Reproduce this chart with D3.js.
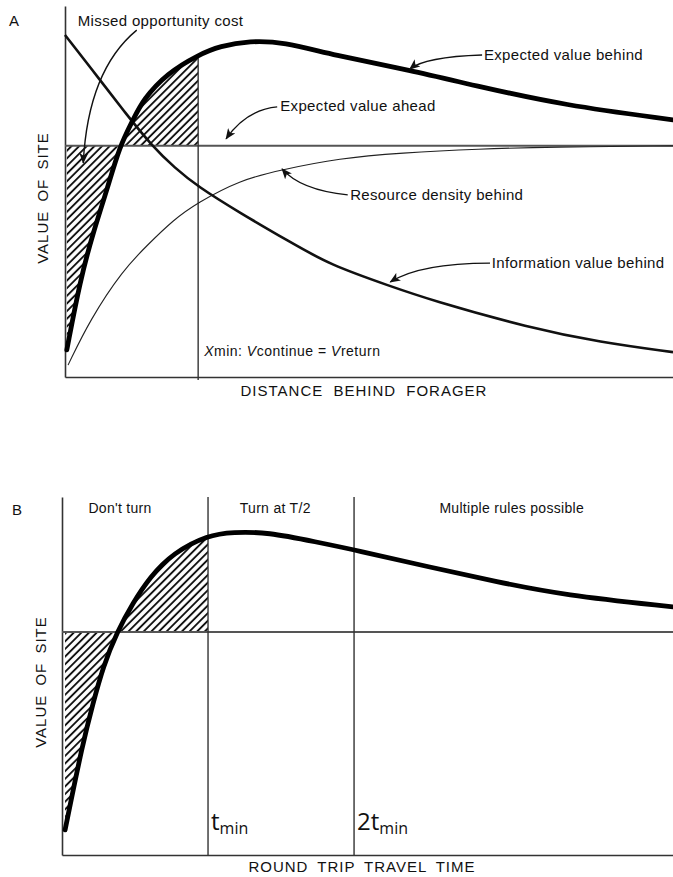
<!DOCTYPE html>
<meta charset="utf-8">

<script src="https://d3js.org/d3.v7.min.js"></script>

<style>
    body { margin: 0; background: #fff; }
    text { font-family: "Liberation Sans", Arial, sans-serif; fill: #111; }
</style>

<div id="chart"></div>

<script>
    // values, both axes in 0-100 "units"
    // panel A: distance behind forager
    const expectedBehindA = [[0.3, 7.3], [2.5, 26.1], [4.6, 38.8], [6.9, 50.4], [9.0, 62.3], [11.2, 69.3],
        [12.8, 74.7], [16.8, 81.9], [21.9, 86.8], [25.5, 89.2], [30.4, 90.6], [35.9, 90.3], [44.1, 86.8],
        [56.7, 82.7], [68.3, 78.2], [81.9, 73.3], [100, 69.3]];
    const infoBehindA = [[0, 92.2], [5.8, 80.0], [9.9, 71.2], [14.3, 62.3], [18.1, 56.3], [21.7, 51.5],
        [28.8, 44.2], [37.0, 36.4], [43.6, 30.2], [53.5, 24.5], [60.0, 20.8], [76.5, 13.2], [88.0, 9.4], [100, 6.7]];
    const resourceBehindA = [[0.5, 3.2], [4.1, 15.4], [9.5, 28.8], [13.7, 35.8], [17.8, 42.3], [21.7, 46.9],
        [28.8, 53.1], [35.4, 55.8], [45.2, 59.0], [55.1, 60.4], [68.3, 61.5], [79.8, 62.0], [100, 62.3]];
    const expectedAheadA = 62.3;
    const xMinA = 21.9;

    // panel B: round trip travel time
    const expectedBehindB = [[0.5, 7.0], [3.4, 31.3], [5.1, 42.5], [6.7, 52.5], [9.0, 62.3], [11.6, 70.4],
        [14.4, 77.7], [18.2, 84.4], [23.9, 89.4], [28.0, 90.2], [33.6, 90.2], [41.7, 87.4], [48.0, 85.2],
        [60.2, 80.4], [71.2, 76.3], [82.0, 72.6], [100, 69.3]];
    const expectedAheadB = 62.3;
    const tMin = 23.9;
    const regionNames = ["Don't turn", "Turn at T/2", "Multiple rules possible"];
    const regionCenters = [9.5, 34.9, 73.6];

    // annotations of panel A (text start, arrow start / bend / tip)
    const notesA = [
        {text: "Missed opportunity cost", at: [2.1, 94.6], from: [11.8, 93.5], ctrl: [3.8, 82.7], to: [3.0, 57.7]},
        {text: "Expected value ahead", at: [35.4, 71.7], from: [34.9, 72.8], ctrl: [29.8, 72.0], to: [26.5, 64.2]},
        {text: "Expected value behind", at: [68.9, 85.4], from: [68.6, 86.8], ctrl: [59.2, 86.3], to: [56.7, 83.0]},
        {text: "Resource density behind", at: [46.9, 47.7], from: [46.5, 49.1], ctrl: [38.7, 50.4], to: [35.7, 56.1]},
        {text: "Information value behind", at: [70.2, 29.4], from: [69.9, 30.7], ctrl: [58.4, 30.7], to: [53.5, 25.6]}
    ];

    const svg = d3.select("#chart")
        .append("svg")
        .attr("width", 673)
        .attr("height", 877);

    const defs = svg.append("defs");

    const hatch = defs.append("pattern")
        .attr("id", "hatch")
        .attr("patternUnits", "userSpaceOnUse")
        .attr("width", 5.4)
        .attr("height", 5.4)
        .attr("patternTransform", "rotate(45)");
    hatch.append("line")
        .attr("x1", 2.7).attr("y1", 0)
        .attr("x2", 2.7).attr("y2", 5.4)
        .attr("stroke", "#111")
        .attr("stroke-width", 1.9);

    defs.append("marker")
        .attr("id", "arrow")
        .attr("viewBox", "0 0 12 10")
        .attr("refX", 11)
        .attr("refY", 5)
        .attr("markerWidth", 11)
        .attr("markerHeight", 9)
        .attr("markerUnits", "userSpaceOnUse")
        .attr("orient", "auto")
        .append("path")
        .attr("d", "M0,0 L12,5 L0,10 L3,5 Z")
        .attr("fill", "#111");

    function noAxis(axis) {
        return axis.tickValues([]).tickSizeOuter(0);
    }

    function styleAxis(g) {
        g.select(".domain").attr("stroke", "#333").attr("stroke-width", 1.6);
    }

    // ---------------- Panel A ----------------
    const xA = d3.scaleLinear().domain([0, 100]).range([65, 673]);
    const yA = d3.scaleLinear().domain([0, 100]).range([377, 6]);

    const lineA = d3.line()
        .x(d => xA(d[0]))
        .y(d => yA(d[1]))
        .curve(d3.curveBasis);

    const areaA = d3.area()
        .x(d => xA(d[0]))
        .y0(yA(expectedAheadA))
        .y1(d => yA(d[1]))
        .curve(d3.curveBasis);

    defs.append("clipPath").attr("id", "clipA")
        .append("rect")
        .attr("x", xA(0)).attr("y", 0)
        .attr("width", xA(xMinA) - xA(0))
        .attr("height", yA(0));

    const gA = svg.append("g");

    gA.append("path")
        .datum(expectedBehindA)
        .attr("d", areaA)
        .attr("fill", "url(#hatch)")
        .attr("clip-path", "url(#clipA)");

    gA.append("g")
        .attr("transform", `translate(0, ${yA(0)})`)
        .call(noAxis(d3.axisBottom(xA)))
        .call(styleAxis);

    gA.append("g")
        .attr("transform", `translate(${xA(0)}, 0)`)
        .call(noAxis(d3.axisLeft(yA)))
        .call(styleAxis);

    // expected value ahead
    gA.append("line")
        .attr("x1", xA(0)).attr("x2", xA(100))
        .attr("y1", yA(expectedAheadA)).attr("y2", yA(expectedAheadA))
        .attr("stroke", "#555")
        .attr("stroke-width", 2);

    // x min
    const topAtMin = expectedBehindA.find(d => d[0] === xMinA)[1];
    gA.append("line")
        .attr("x1", xA(xMinA)).attr("x2", xA(xMinA))
        .attr("y1", yA(topAtMin)).attr("y2", yA(0) + 3)
        .attr("stroke", "#333")
        .attr("stroke-width", 1.4);

    gA.append("path")
        .datum(resourceBehindA)
        .attr("d", lineA)
        .attr("fill", "none")
        .attr("stroke", "#222")
        .attr("stroke-width", 1.1);

    gA.append("path")
        .datum(infoBehindA)
        .attr("d", lineA)
        .attr("fill", "none")
        .attr("stroke", "#111")
        .attr("stroke-width", 2.6);

    gA.append("path")
        .datum(expectedBehindA)
        .attr("d", lineA)
        .attr("fill", "none")
        .attr("stroke", "#000")
        .attr("stroke-width", 4.8)
        .attr("stroke-linecap", "round");

    // annotations
    gA.selectAll(".note")
        .data(notesA)
        .join("path")
        .attr("class", "note")
        .attr("d", d => `M${xA(d.from[0])},${yA(d.from[1])} Q${xA(d.ctrl[0])},${yA(d.ctrl[1])} ${xA(d.to[0])},${yA(d.to[1])}`)
        .attr("fill", "none")
        .attr("stroke", "#111")
        .attr("stroke-width", 1.4)
        .attr("marker-end", "url(#arrow)");

    gA.selectAll(".noteText")
        .data(notesA)
        .join("text")
        .attr("class", "noteText")
        .attr("x", d => xA(d.at[0]))
        .attr("y", d => yA(d.at[1]))
        .attr("font-size", 15)
        .attr("letter-spacing", 0.35)
        .text(d => d.text);

    const xminText = gA.append("text")
        .attr("x", xA(xMinA) + 6)
        .attr("y", yA(0) - 21)
        .attr("font-size", 14)
        .attr("letter-spacing", 0.5);
    xminText.append("tspan").attr("font-style", "italic").text("X");
    xminText.append("tspan").text("min: ");
    xminText.append("tspan").attr("font-style", "italic").text("V");
    xminText.append("tspan").text("continue = ");
    xminText.append("tspan").attr("font-style", "italic").text("V");
    xminText.append("tspan").text("return");

    gA.append("text")
        .attr("x", 364)
        .attr("y", 396)
        .attr("text-anchor", "middle")
        .attr("font-size", 15)
        .attr("letter-spacing", 1)
        .attr("word-spacing", 5)
        .text("DISTANCE BEHIND FORAGER");

    gA.append("text")
        .attr("transform", "translate(48, 198) rotate(-90)")
        .attr("text-anchor", "middle")
        .attr("font-size", 15)
        .attr("letter-spacing", 1)
        .attr("word-spacing", 4)
        .text("VALUE OF SITE");

    gA.append("text")
        .attr("x", 9)
        .attr("y", 26)
        .attr("font-size", 15)
        .text("A");

    // ---------------- Panel B ----------------
    const xB = d3.scaleLinear().domain([0, 100]).range([62, 673]);
    const yB = d3.scaleLinear().domain([0, 100]).range([855, 497]);

    const lineB = d3.line()
        .x(d => xB(d[0]))
        .y(d => yB(d[1]))
        .curve(d3.curveBasis);

    const areaB = d3.area()
        .x(d => xB(d[0]))
        .y0(yB(expectedAheadB))
        .y1(d => yB(d[1]))
        .curve(d3.curveBasis);

    defs.append("clipPath").attr("id", "clipB")
        .append("rect")
        .attr("x", xB(0)).attr("y", yB(100))
        .attr("width", xB(tMin) - xB(0))
        .attr("height", yB(0) - yB(100));

    const gB = svg.append("g");

    gB.append("path")
        .datum(expectedBehindB)
        .attr("d", areaB)
        .attr("fill", "url(#hatch)")
        .attr("clip-path", "url(#clipB)");

    gB.append("g")
        .attr("transform", `translate(0, ${yB(0)})`)
        .call(noAxis(d3.axisBottom(xB)))
        .call(styleAxis);

    gB.append("g")
        .attr("transform", `translate(${xB(0)}, 0)`)
        .call(noAxis(d3.axisLeft(yB)))
        .call(styleAxis);

    gB.append("line")
        .attr("x1", xB(0)).attr("x2", xB(100))
        .attr("y1", yB(expectedAheadB)).attr("y2", yB(expectedAheadB))
        .attr("stroke", "#555")
        .attr("stroke-width", 2);

    gB.selectAll(".split")
        .data([tMin, 2 * tMin])
        .join("line")
        .attr("class", "split")
        .attr("x1", d => xB(d)).attr("x2", d => xB(d))
        .attr("y1", yB(100)).attr("y2", yB(0))
        .attr("stroke", "#333")
        .attr("stroke-width", 1.4);

    gB.append("path")
        .datum(expectedBehindB)
        .attr("d", lineB)
        .attr("fill", "none")
        .attr("stroke", "#000")
        .attr("stroke-width", 4.8)
        .attr("stroke-linecap", "round");

    gB.selectAll(".region")
        .data(regionNames)
        .join("text")
        .attr("class", "region")
        .attr("x", (d, i) => xB(regionCenters[i]))
        .attr("y", 513)
        .attr("text-anchor", "middle")
        .attr("font-size", 14)
        .attr("letter-spacing", 0.3)
        .text(d => d);

    gB.selectAll(".tlabel")
        .data([["", tMin], ["2", 2 * tMin]])
        .join("text")
        .attr("class", "tlabel")
        .attr("x", d => xB(d[1]) + 3)
        .attr("y", 830)
        .style("font-family", "'Open Sans', sans-serif")
        .attr("font-size", 24)
        .each(function(d) {
            const t = d3.select(this);
            t.append("tspan").text(d[0] + "t");
            t.append("tspan").attr("font-size", 16).attr("dy", 4).text("min");
        });

    gB.append("text")
        .attr("x", 362)
        .attr("y", 872)
        .attr("text-anchor", "middle")
        .attr("font-size", 15)
        .attr("letter-spacing", 1)
        .attr("word-spacing", 4)
        .text("ROUND TRIP TRAVEL TIME");

    gB.append("text")
        .attr("transform", "translate(46, 682) rotate(-90)")
        .attr("text-anchor", "middle")
        .attr("font-size", 15)
        .attr("letter-spacing", 1)
        .attr("word-spacing", 4)
        .text("VALUE OF SITE");

    gB.append("text")
        .attr("x", 12)
        .attr("y", 515)
        .attr("font-size", 15)
        .text("B");
</script>
